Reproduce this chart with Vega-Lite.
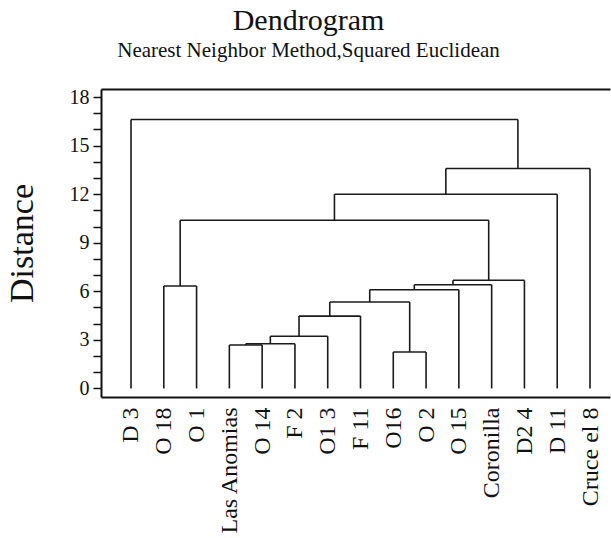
{
  "$schema": "https://vega.github.io/schema/vega-lite/v6.json",
  "width": 509,
  "height": 308,
  "autosize": {"type": "none"},
  "padding": {"left": 101, "top": 89, "right": 1, "bottom": 141},
  "config": {
    "font": "Liberation Serif",
    "view": {"stroke": null},
    "axis": {"grid": false, "domainColor": "#111", "domainWidth": 2, "tickColor": "#111", "labelColor": "#111", "titleColor": "#111", "labelFont": "Liberation Serif", "titleFont": "Liberation Serif", "titleFontWeight": "normal"}
  },
  "title": {
    "text": "Dendrogram",
    "subtitle": "Nearest Neighbor Method,Squared Euclidean",
    "font": "Liberation Serif",
    "subtitleFont": "Liberation Serif",
    "fontSize": 30,
    "subtitleFontSize": 21,
    "fontWeight": "normal",
    "color": "#111",
    "subtitleColor": "#111",
    "anchor": "middle",
    "dx": -47,
    "offset": 26,
    "subtitlePadding": 4
  },
  "data": {
    "values": [
      {"merge": 1, "xl": 3, "xr": 4, "hl": 0, "hr": 0, "h": 2.68},
      {"merge": 2, "xl": 8, "xr": 9, "hl": 0, "hr": 0, "h": 2.25},
      {"merge": 3, "xl": 3.5, "xr": 5, "hl": 2.68, "hr": 0, "h": 2.76},
      {"merge": 4, "xl": 4.25, "xr": 6, "hl": 2.76, "hr": 0, "h": 3.22},
      {"merge": 5, "xl": 5.125, "xr": 7, "hl": 3.22, "hr": 0, "h": 4.47},
      {"merge": 6, "xl": 6.0625, "xr": 8.5, "hl": 4.47, "hr": 2.25, "h": 5.34},
      {"merge": 7, "xl": 7.28125, "xr": 10, "hl": 5.34, "hr": 0, "h": 6.10},
      {"merge": 8, "xl": 8.640625, "xr": 11, "hl": 6.10, "hr": 0, "h": 6.41},
      {"merge": 9, "xl": 9.8203, "xr": 12, "hl": 6.41, "hr": 0, "h": 6.68},
      {"merge": 10, "xl": 1, "xr": 2, "hl": 0, "hr": 0, "h": 6.33},
      {"merge": 11, "xl": 1.5, "xr": 10.9102, "hl": 6.33, "hr": 6.68, "h": 10.39},
      {"merge": 12, "xl": 6.2051, "xr": 13, "hl": 10.39, "hr": 0, "h": 12.0},
      {"merge": 13, "xl": 9.6025, "xr": 14, "hl": 12.0, "hr": 0, "h": 13.59},
      {"merge": 14, "xl": 0, "xr": 11.8013, "hl": 0, "hr": 13.59, "h": 16.62}
    ]
  },
  "layer": [
    {
      "mark": {"type": "rule", "color": "#1a1a1a", "strokeWidth": 1.6},
      "encoding": {
        "x": {"field": "xl", "type": "quantitative", "scale": {"domain": [-0.915, 14.61], "nice": false, "zero": false},
          "axis": {"orient": "bottom", "values": [0,1,2,3,4,5,6,7,8,9,10,11,12,13,14], "ticks": false, "labelAngle": 270, "labelFontSize": 24, "labelPadding": 10, "labelFlush": false, "labelOverlap": false, "title": null,
            "labelExpr": "['D 3','O 18','O 1','Las Anomias','O 14','F 2','O1 3','F 11','O16','O 2','O 15','Coronilla','D2 4','D 11','Cruce el 8'][datum.value]"}},
        "x2": {"field": "xr"},
        "y": {"field": "h", "type": "quantitative", "scale": {"domain": [-0.53, 18.5], "nice": false, "zero": false},
          "axis": {"orient": "left", "values": [0,1,2,3,4,5,6,7,8,9,10,11,12,13,14,15,16,17,18], "labelExpr": "datum.value % 3 === 0 ? datum.label : ''", "labelFontSize": 20, "labelPadding": 4, "labelOverlap": false, "labelFlush": false,
            "ticks": true, "tickSize": 8, "tickWidth": 1.5,
            "encode": {"ticks": {"update": {"x2": {"signal": "datum.value % 3 === 0 ? 8 : 4"}}}},
            "title": "Distance", "titleFontSize": 34, "titlePadding": 30}}
      }
    },
    {
      "mark": {"type": "rule", "color": "#1a1a1a", "strokeWidth": 1.6},
      "encoding": {
        "x": {"field": "xl", "type": "quantitative", "axis": {"orient": "top", "labels": false, "ticks": false, "title": null, "domain": true}},
        "y": {"field": "hl", "type": "quantitative",
          "axis": {"orient": "left", "values": [0,1,2,3,4,5,6,7,8,9,10,11,12,13,14,15,16,17,18], "labelExpr": "datum.value % 3 === 0 ? datum.label : ''", "labelFontSize": 20, "labelPadding": 4, "labelOverlap": false, "labelFlush": false,
            "ticks": true, "tickSize": 8, "tickWidth": 1.5,
            "encode": {"ticks": {"update": {"x2": {"signal": "datum.value % 3 === 0 ? 8 : 4"}}}},
            "title": "Distance", "titleFontSize": 34, "titlePadding": 30}},
        "y2": {"field": "h"}
      }
    },
    {
      "mark": {"type": "rule", "color": "#1a1a1a", "strokeWidth": 1.6},
      "encoding": {
        "x": {"field": "xr", "type": "quantitative", "axis": null},
        "y": {"field": "hr", "type": "quantitative",
          "axis": {"orient": "left", "values": [0,1,2,3,4,5,6,7,8,9,10,11,12,13,14,15,16,17,18], "labelExpr": "datum.value % 3 === 0 ? datum.label : ''", "labelFontSize": 20, "labelPadding": 4, "labelOverlap": false, "labelFlush": false,
            "ticks": true, "tickSize": 8, "tickWidth": 1.5,
            "encode": {"ticks": {"update": {"x2": {"signal": "datum.value % 3 === 0 ? 8 : 4"}}}},
            "title": "Distance", "titleFontSize": 34, "titlePadding": 30}},
        "y2": {"field": "h"}
      }
    }
  ],
  "resolve": {"axis": {"x": "independent"}}
}
